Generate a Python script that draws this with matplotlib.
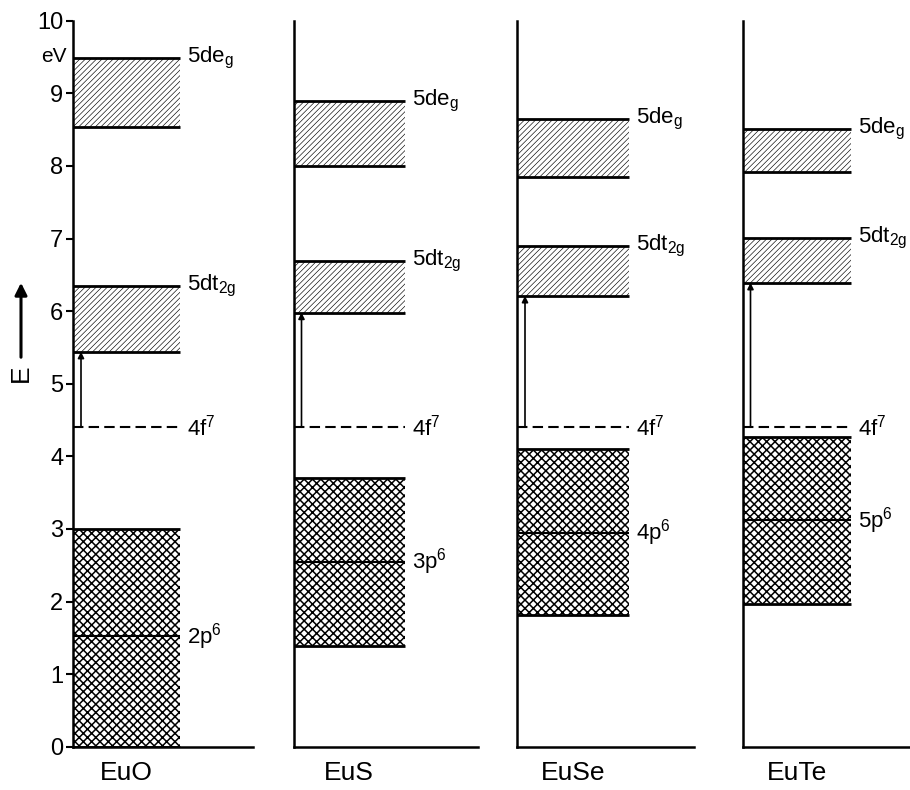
import matplotlib
matplotlib.use('Agg')
import matplotlib.pyplot as plt
import numpy as np

plt.rcParams['font.family'] = ['Liberation Sans', 'DejaVu Sans']
plt.rcParams['mathtext.default'] = 'regular'

# energy levels in eV for the europium chalcogenides
compounds = ['EuO', 'EuS', 'EuSe', 'EuTe']
eg_lo = [8.54, 8.00, 7.85, 7.91]
eg_hi = [9.49, 8.90, 8.65, 8.51]
t2g_lo = [5.44, 5.98, 6.21, 6.39]
t2g_hi = [6.35, 6.69, 6.90, 7.01]
f_level = [4.40, 4.40, 4.40, 4.40]
p_lo = [0.0, 1.39, 1.81, 1.97]
p_hi = [3.00, 3.70, 4.10, 4.27]
p_mid = [1.52, 2.55, 2.95, 3.12]
p_names = ['2p$^6$', '3p$^6$', '4p$^6$', '5p$^6$']
yticks = list(range(0, 11))

# panel layout (pixels): left spine position, axis width, band width
W, H = 910, 790
left_px = [73, 293.5, 517, 742.5]
width_px = [180, 184, 177, 170]
band_px = [107, 111.5, 112, 108.5]
y0_px, ppe = 746.7, 72.6

fig = plt.figure(figsize=(W / 100, H / 100), dpi=100)

for i, name in enumerate(compounds):
    ax = fig.add_axes([left_px[i] / W, (H - y0_px) / H,
                       width_px[i] / W, 10 * ppe / H])
    ax.set_xlim(0, 1)
    ax.set_ylim(0, 10)
    for s in ['top', 'right']:
        ax.spines[s].set_visible(False)
    for s in ['left', 'bottom']:
        ax.spines[s].set_linewidth(1.8)
    ax.set_xticks([])
    if i == 0:
        ax.set_yticks(yticks)
        ax.tick_params(axis='y', direction='out', length=5, width=1.5,
                       pad=2, labelsize=17)
        ax.text(-0.035, 9.5, 'eV', ha='right', va='center', fontsize=15,
                transform=ax.get_yaxis_transform())
    else:
        ax.set_yticks([])

    b = band_px[i] / width_px[i]
    lab_x = b + 7 / width_px[i]

    # empty 5d bands: light diagonal hatch
    with plt.rc_context({'hatch.linewidth': 0.45}):
        for lo, hi in [(eg_lo[i], eg_hi[i]), (t2g_lo[i], t2g_hi[i])]:
            ax.axhspan(lo, hi, xmin=0, xmax=b, facecolor='white',
                       edgecolor='black', hatch='//////', linewidth=0)
    # filled anion p band: crosshatch
    with plt.rc_context({'hatch.linewidth': 1.1}):
        ax.axhspan(p_lo[i], p_hi[i], xmin=0, xmax=b, facecolor='white',
                   edgecolor='black', hatch='xxxx', linewidth=0)

    for y in [eg_lo[i], eg_hi[i], t2g_lo[i], t2g_hi[i], p_lo[i], p_hi[i]]:
        ax.hlines(y, 0, b, color='black', lw=2.0)
    ax.hlines(p_mid[i], 0, b, color='black', lw=1.5)
    ax.hlines(f_level[i], 0, b, color='black', lw=1.5,
              linestyles=(0, (5, 2.5)))

    ax.text(lab_x, eg_hi[i], '5de$_g$', va='center', fontsize=16)
    ax.text(lab_x, t2g_hi[i], '5dt$_{2g}$', va='center', fontsize=16)
    ax.text(lab_x, f_level[i], '4f$^7$', va='center', fontsize=16)
    ax.text(lab_x, p_mid[i], p_names[i], va='center', fontsize=16)

    # 4f -> 5d t2g transition
    ax_x = 8 / width_px[i]
    ax.annotate('', xy=(ax_x, t2g_lo[i]), xytext=(ax_x, f_level[i]),
                arrowprops=dict(arrowstyle='-|>', lw=1.2, color='black',
                                mutation_scale=9, shrinkA=0, shrinkB=0))
    ax.plot([0, ax_x], [f_level[i], f_level[i]], color='black', lw=1.2)

    ax.text(b / 2, -0.36, name, ha='center', va='center', fontsize=19,
            clip_on=False)

# energy axis label with upward arrow
fig.text(21 / W, 1 - 373 / H, 'E', rotation=90, ha='center', va='center',
         fontsize=19)
fig.add_artist(matplotlib.patches.FancyArrowPatch(
    (21 / W, 1 - 360 / H), (21 / W, 1 - 280 / H),
    transform=fig.transFigure, arrowstyle='-|>', mutation_scale=18,
    lw=2.2, color='black'))

fig.savefig('out.png', dpi=100, facecolor='white')
